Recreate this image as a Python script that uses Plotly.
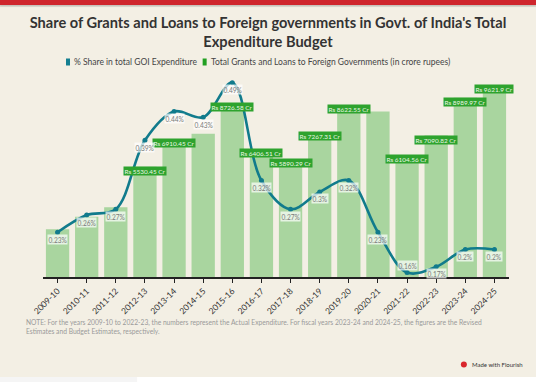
import plotly.graph_objects as go

# ---------------- data ----------------
years = ["2009-10", "2010-11", "2011-12", "2012-13", "2013-14", "2014-15", "2015-16",
         "2016-17", "2017-18", "2018-19", "2019-20", "2020-21", "2021-22", "2022-23",
         "2023-24", "2024-25"]
share_pct = [0.23, 0.26, 0.27, 0.39, 0.44, 0.43, 0.49, 0.32, 0.27, 0.30, 0.32, 0.23,
             0.16, 0.17, 0.20, 0.20]
grants_cr = [2390, 3020, 3490, 5530.45, 6910.45, 7180, 8726.58, 6406.51, 5890.29,
             7267.31, 8622.55, 8290, 6104.56, 7090.82, 8989.97, 9621.9]
bar_labels = ["", "", "", "Rs 5530.45 Cr", "Rs 6910.45 Cr", "", "Rs 8726.58 Cr",
              "Rs 6406.51 Cr", "Rs 5890.29 Cr", "Rs 7267.31 Cr", "Rs 8622.55 Cr", "",
              "Rs 6104.56 Cr", "Rs 7090.82 Cr", "Rs 8989.97 Cr", "Rs 9621.9 Cr"]
pct_label_above = ["2021-22"]

title_text = "Share of Grants and Loans to Foreign governments in Govt. of India's Total<br>Expenditure Budget"
legend_names = ["% Share in total GOI Expenditure",
                "Total Grants and Loans to Foreign Governments (in crore rupees)"]
note_text = ("NOTE: For the years 2009-10 to 2022-23, the numbers represent the Actual Expenditure. "
             "For fiscal years 2023-24 and 2024-25, the figures are the Revised<br>"
             "Estimates and Budget Estimates, respectively.")

# ---------------- layout geometry ----------------
W, H = 536, 382
PL, PR, PT, PB = 43, 508.6, 72, 277
FONT = "Lato, 'Open Sans', sans-serif"
BG = "#f3efe4"
TEAL = "#117b8c"
GREEN = "#22a022"
RED = "#cf252c"


def px_x(px):
    return (px - PL) / (PR - PL)


def px_y(py):
    return (PB - py) / (PB - PT)


fig = go.Figure()
fig.add_trace(go.Bar(
    x=years, y=grants_cr, name=legend_names[1],
    marker=dict(color="#a9d59f", line=dict(width=0)),
    showlegend=False, hoverinfo="skip",
))
fig.add_trace(go.Scatter(
    x=years, y=share_pct, name=legend_names[0], yaxis="y2",
    mode="lines+markers", line=dict(color=TEAL, width=2.6, shape="spline", smoothing=1),
    marker=dict(color=TEAL, size=5), showlegend=False, hoverinfo="skip",
))

annotations = []
# bar value labels
for yr, v, lab in zip(years, grants_cr, bar_labels):
    if lab:
        annotations.append(dict(
            x=yr, y=v, xref="x", yref="y", text=lab, showarrow=False,
            yshift=-4, bgcolor="#2ea32e", borderpad=0.5,
            font=dict(family=FONT, size=6.4, color="#eaf6e4"),
        ))
# line value labels
for yr, v in zip(years, share_pct):
    annotations.append(dict(
        x=yr, y=v, xref="x", yref="y2", text=f"{v:g}%", showarrow=False,
        yshift=7 if yr in pct_label_above else -7,
        bgcolor="rgba(255,255,255,0.7)", borderpad=0.5,
        font=dict(family=FONT, size=6.6, color="#7a7a7a"),
    ))
# legend texts
annotations.append(dict(x=px_x(72), y=px_y(62), xref="paper", yref="paper", xanchor="left",
                        yanchor="middle", text=legend_names[0], showarrow=False,
                        font=dict(family=FONT, size=8.5, color="#444")))
annotations.append(dict(x=px_x(209), y=px_y(62), xref="paper", yref="paper", xanchor="left",
                        yanchor="middle", text=legend_names[1], showarrow=False,
                        font=dict(family=FONT, size=8.5, color="#444")))
# note
annotations.append(dict(x=px_x(24), y=px_y(316), xref="paper", yref="paper", xanchor="left",
                        yanchor="top", align="left", text=note_text, showarrow=False,
                        font=dict(family=FONT, size=6.7, color="#9a9a9a")))
# flourish credit
annotations.append(dict(x=px_x(470), y=px_y(364.5), xref="paper", yref="paper", xanchor="left",
                        yanchor="middle", text="Made with Flourish", showarrow=False,
                        font=dict(family=FONT, size=6, color="#333")))

shapes = [
    # legend swatches
    dict(type="rect", xref="paper", yref="paper", x0=px_x(66), x1=px_x(70), y0=px_y(65.5), y1=px_y(58.5),
         fillcolor="#147f91", line=dict(width=0)),
    dict(type="rect", xref="paper", yref="paper", x0=px_x(202.5), x1=px_x(206.5), y0=px_y(65.5), y1=px_y(58.5),
         fillcolor=GREEN, line=dict(width=0)),
    # flourish dot
    dict(type="circle", xref="paper", yref="paper", x0=px_x(460.5), x1=px_x(466.5), y0=px_y(367.5), y1=px_y(361.5),
         fillcolor="#d9262c", line=dict(width=0)),
    # bottom strip
    dict(type="rect", xref="paper", yref="paper", x0=px_x(0), x1=px_x(137), y0=px_y(H), y1=px_y(377),
         fillcolor="#f5f5f5", line=dict(width=0)),
    dict(type="rect", xref="paper", yref="paper", x0=px_x(137), x1=px_x(W), y0=px_y(H), y1=px_y(377),
         fillcolor="#ffffff", line=dict(width=0)),
    # top red band with soft shadow
    dict(type="rect", xref="paper", yref="paper", x0=px_x(0), x1=px_x(W), y0=px_y(7), y1=px_y(5),
         fillcolor="rgba(0,0,0,0.08)", line=dict(width=0), layer="above"),
    dict(type="rect", xref="paper", yref="paper", x0=px_x(0), x1=px_x(W), y0=px_y(5), y1=px_y(0),
         fillcolor=RED, line=dict(width=0), layer="above"),
]

fig.update_layout(
    width=W, height=H,
    margin=dict(l=PL, r=W - PR, t=PT, b=H - PB, pad=0),
    paper_bgcolor=BG, plot_bgcolor=BG,
    bargap=0.2,
    title=dict(text=title_text, x=0.5, xanchor="center", xref="container",
               y=1 - 28 / H, yanchor="top", yref="container",
               font=dict(family=FONT, size=14.6, color="#333", weight="bold")),
    xaxis=dict(type="category", showline=True, linecolor="#222", linewidth=1.5,
               ticks="outside", ticklen=4, tickcolor="#222", tickwidth=1,
               tickangle=-45, tickfont=dict(family=FONT, size=8.5, color="#333"),
               showgrid=False, zeroline=False, range=[-0.5, len(years) - 0.5]),
    yaxis=dict(range=[0, (PB - PT) / 0.01995], visible=False, showgrid=False, zeroline=False),
    yaxis2=dict(range=[(364.6 - PB) / 575.4, (364.6 - PT) / 575.4], overlaying="y",
                visible=False, showgrid=False, zeroline=False),
    showlegend=False,
    annotations=annotations,
    shapes=shapes,
)

post_js = (
    "document.body.style.margin='0';"
    "document.documentElement.style.overflow='hidden';"
    "window.scrollTo(0,0);"
    "var band=document.createElement('div');"
    "band.style.cssText='position:fixed;top:0;left:0;width:100%;height:5px;"
    "background:" + RED + ";box-shadow:0 1px 2px rgba(0,0,0,0.15);z-index:10;pointer-events:none';"
    "document.body.appendChild(band);"
)

fig.write_html(
    "out.html",
    config={"displayModeBar": False},
    post_script=post_js,
)
